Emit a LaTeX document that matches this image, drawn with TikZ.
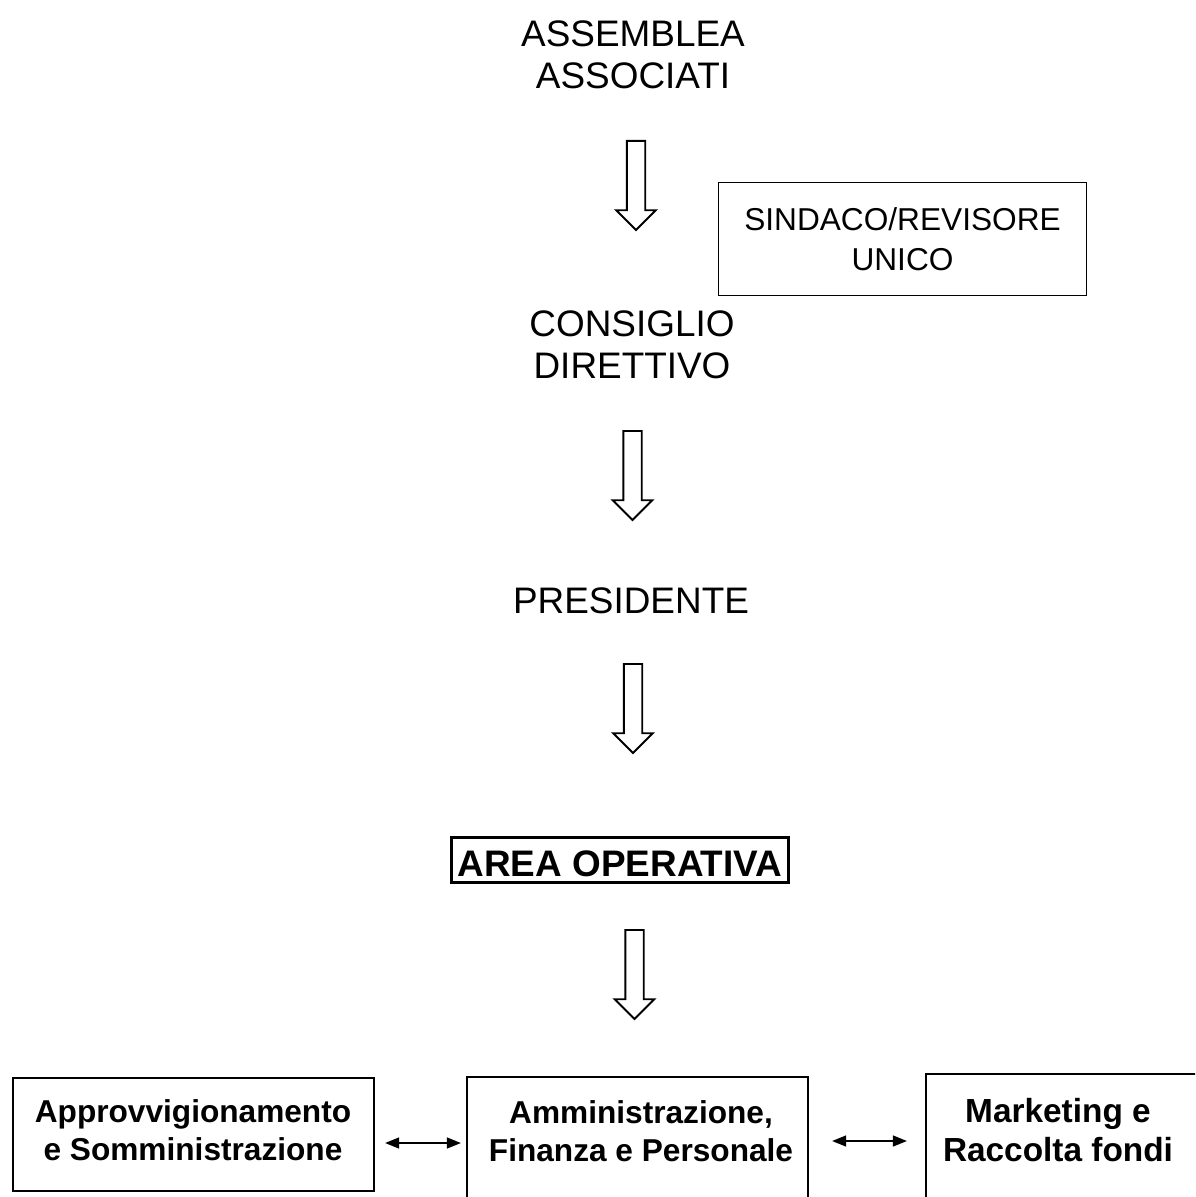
\documentclass[tikz,border=0pt]{standalone}
\usepackage{fontspec}
\setmainfont{Liberation Sans}
\usepackage{tikz}
\usetikzlibrary{shapes.arrows, arrows.meta, positioning, calc}

\begin{document}
\begin{tikzpicture}[
        bigtext/.style={font=\fontsize{21pt}{24pt}\selectfont, align=center, inner sep=0pt},
        hollowarrow/.style={single arrow, draw, line width=1.1pt, minimum height=1.78cm, inner sep=0.165cm,
            single arrow head extend=0.21cm, shape border rotate=270, anchor=tail},
        unitbox/.style={draw, line width=1.3pt, inner sep=0pt},
        unitlabel/.style={font=\bfseries\fontsize{18pt}{21.9pt}\selectfont, align=center, inner sep=0pt},
        link/.style={{Triangle[length=0.28cm,width=0.22cm]}-{Triangle[length=0.28cm,width=0.22cm]}, line width=0.8pt}
    ]
        \clip (0,0) rectangle (23.9,-23.94);

        % Governance
        \node[bigtext] (assemblea) at (12.66,-1.10) {ASSEMBLEA\\ASSOCIATI};
        \node[hollowarrow] (arr1) at (12.72,-2.80) {};
        \node[unitbox, line width=1.1pt, minimum width=7.36cm, minimum height=2.26cm, align=center,
              font=\fontsize{18pt}{22.8pt}\selectfont] (sindaco) at (18.05,-4.78) {SINDACO/REVISORE\\UNICO};
        \node[bigtext] (consiglio) at (12.64,-6.90) {CONSIGLIO\\DIRETTIVO};
        \node[hollowarrow] (arr2) at (12.65,-8.60) {};
        \node[bigtext] (presidente) at (12.62,-12.02) {PRESIDENTE};
        \node[hollowarrow] (arr3) at (12.66,-13.26) {};

        % Area operativa
        \node[bigtext, draw, line width=1.7pt, font=\bfseries\fontsize{21pt}{24pt}\selectfont,
              minimum width=6.74cm, text height=0.78cm, text depth=0.11cm] (area) at (12.40,-17.20) {AREA OPERATIVA};
        \node[hollowarrow] (arr4) at (12.69,-18.58) {};

        % Units
        \node[unitbox, minimum width=7.22cm, minimum height=2.26cm] (appro) at (3.87,-22.69) {};
        \node[unitlabel] (approlbl) at (3.86,-22.60) {Approvvigionamento\\e Somministrazione};
        \node[unitbox, minimum width=6.82cm, minimum height=2.80cm] (ammin) at (12.75,-22.94) {};
        \node[unitlabel] (amminlbl) at (12.82,-22.62) {Amministrazione,\\Finanza e Personale};
        \node[unitbox, minimum width=5.78cm, minimum height=2.92cm] (mkt) at (21.41,-22.94) {};
        \node[unitlabel, font=\bfseries\fontsize{19pt}{22pt}\selectfont] (mktlbl) at (21.16,-22.60) {Marketing e\\Raccolta fondi};

        \draw[link] ([xshift=0.2cm,yshift=-0.17cm]appro.east) -- ([xshift=-0.1cm,yshift=-0.17cm]appro.east -| ammin.west);
        \draw[link] ([xshift=0.46cm,yshift=0.12cm]ammin.east) -- ([xshift=-0.36cm,yshift=0.12cm]ammin.east -| mkt.west);
    \end{tikzpicture}
\end{document}
